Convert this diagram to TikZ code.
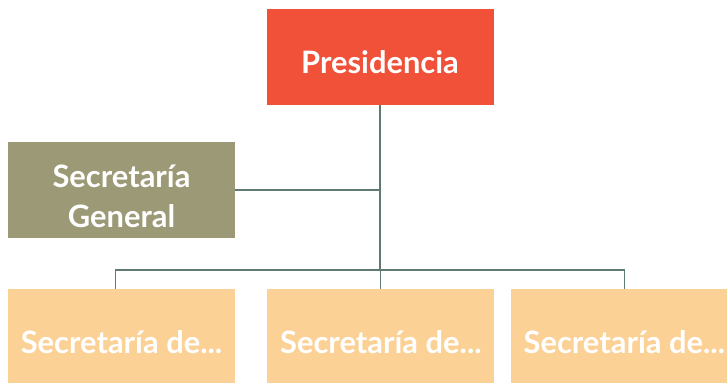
\documentclass[tikz,border=0pt]{standalone}
\usepackage{fontspec}
\setmainfont{Lato}
\usetikzlibrary{positioning}
\definecolor{presred}{HTML}{F05138}
\definecolor{secgen}{HTML}{9C9A76}
\definecolor{secdep}{HTML}{FBD196}
\definecolor{linkgray}{HTML}{5E7A72}
\tikzset{box/.style={rectangle, minimum width=227bp, minimum height=96bp, inner sep=0pt, text=white, align=center, text height=33bp, text depth=0pt, font=\bfseries\fontsize{31}{40}\selectfont}}
\tikzstyle{link}=[draw=linkgray, line width=1.1bp]

\begin{document}
\begin{tikzpicture}[x=1bp, y=-1bp, node distance=32bp]
\useasboundingbox (0,0) rectangle (727,382);
\clip (0,0) rectangle (727,382);
\node[box, fill=presred] (P) at (380,57) {Presidencia};
\node[box, fill=secgen, text height=74bp] (SG) at (121.5,190) {Secretaría\\General};
\node[box, fill=secdep] (D1) at (121.5,337) {Secretaría de...};
\node[box, fill=secdep][right=32bp of D1] (D2) {Secretaría de...};
\node[box, fill=secdep][right=16bp of D2] (D3) {Secretaría de...};
\coordinate (bus) at (0,270);

\path[link] (P.south) -- (P.south |- bus)
	(SG.east) -- (SG.east -| P.south)
	([xshift=-6bp]D1.north) -- ([xshift=-6bp]D1.north |- bus) -- (D3.north |- bus) -- (D3.north)
	(D2.north) -- (D2.north |- bus)
;
\end{tikzpicture}
\end{document}
